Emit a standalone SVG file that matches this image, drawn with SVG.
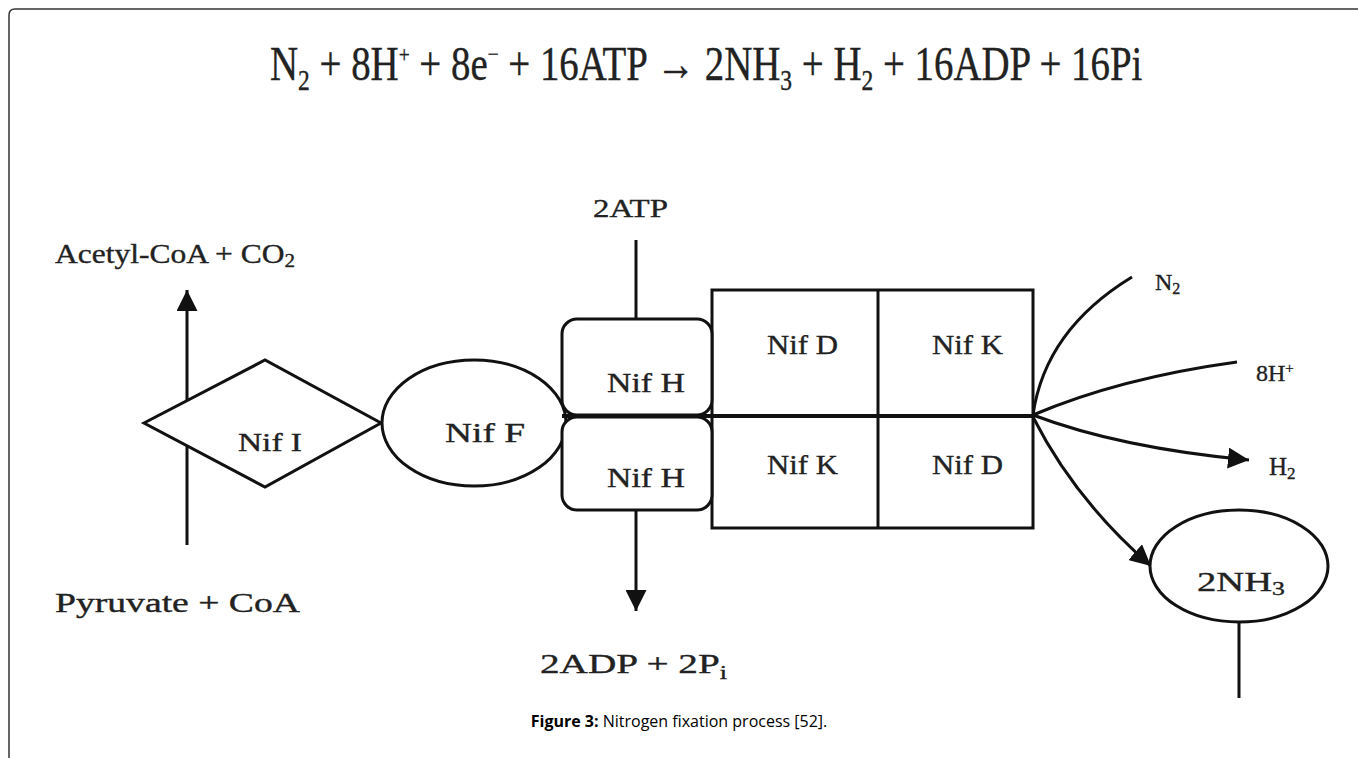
<svg xmlns="http://www.w3.org/2000/svg" width="1358" height="758" viewBox="0 0 1358 758">
<style>
.t{font-family:"Liberation Serif","Times New Roman",serif;fill:#222;stroke:#222;stroke-width:0.35;}
.s{fill:none;stroke:#111;stroke-width:3;}
.n{fill:#fff;stroke:#111;stroke-width:3;}
.cap{font-family:"Open Sans","Liberation Sans",sans-serif;font-size:16px;fill:#000;}
</style>
<defs>
<marker id="ah" viewBox="0 0 10 10" refX="10" refY="5" markerWidth="7" markerHeight="7" orient="auto" markerUnits="strokeWidth">
<path d="M0,0 L10,5 L0,10 Z" fill="#111"/>
</marker>
</defs>
<rect width="1358" height="758" fill="#fff"/>
<path d="M9,758 V15 Q9,9 15,9 H1358" fill="none" stroke="#333" stroke-width="1.5"/>

<g id="equation" transform="translate(270,80) scale(0.81,1)">
<text class="t" x="0" y="0" font-size="48" stroke-width="0.2">N<tspan font-size="29" baseline-shift="-10">2</tspan> + 8H<tspan font-size="24" baseline-shift="18">+</tspan> + 8e<tspan font-size="24" baseline-shift="18">−</tspan> + 16ATP → 2NH<tspan font-size="29" baseline-shift="-10">3</tspan> + H<tspan font-size="29" baseline-shift="-10">2</tspan> + 16ADP + 16Pi</text>
</g>

<g id="connectors">
<line class="s" x1="187" y1="545" x2="187" y2="290" marker-end="url(#ah)"/>
<line class="s" x1="636" y1="240" x2="636" y2="318"/>
<line class="s" x1="636" y1="510" x2="636" y2="611" marker-end="url(#ah)"/>
<path class="s" d="M1033,415 Q1045,330 1132,277"/>
<path class="s" d="M1033,415 Q1120,378 1237,362"/>
<path class="s" d="M1033,415 Q1120,448 1249,460" marker-end="url(#ah)"/>
<path class="s" d="M1033,417 Q1075,500 1151,566" marker-end="url(#ah)"/>
<line class="s" x1="1239" y1="622" x2="1239" y2="698" stroke-width="2"/>
</g>

<g id="acetyl"><text class="t" x="55" y="263" font-size="27" textLength="240" lengthAdjust="spacingAndGlyphs">Acetyl-CoA + CO<tspan font-size="18" baseline-shift="-4">2</tspan></text></g>
<g id="pyruvate"><text class="t" x="55" y="612" font-size="27" textLength="245" lengthAdjust="spacingAndGlyphs">Pyruvate + CoA</text></g>
<g id="atp"><text class="t" x="593" y="217" font-size="26" textLength="75" lengthAdjust="spacingAndGlyphs">2ATP</text></g>
<g id="adp"><text class="t" x="540" y="673" font-size="27" textLength="187" lengthAdjust="spacingAndGlyphs">2ADP + 2P<tspan font-size="18" baseline-shift="-6">i</tspan></text></g>

<g id="nifI">
<polygon class="n" points="144,423 265,360 381,423 265,487"/>
<text class="t" x="238" y="451" font-size="25" textLength="64" lengthAdjust="spacingAndGlyphs">Nif I</text>
</g>
<g id="nifF">
<ellipse class="n" cx="474" cy="423" rx="92" ry="63"/>
<text class="t" x="445" y="442" font-size="27" textLength="80" lengthAdjust="spacingAndGlyphs">Nif F</text>
</g>

<g id="nifDK">
<rect class="n" x="712" y="290" width="321" height="238"/>
<line class="s" x1="878" y1="290" x2="878" y2="528"/>
<text class="t" x="767" y="354" font-size="27" textLength="71" lengthAdjust="spacingAndGlyphs">Nif D</text>
<text class="t" x="932" y="354" font-size="27" textLength="71" lengthAdjust="spacingAndGlyphs">Nif K</text>
<text class="t" x="767" y="474" font-size="27" textLength="71" lengthAdjust="spacingAndGlyphs">Nif K</text>
<text class="t" x="932" y="474" font-size="27" textLength="71" lengthAdjust="spacingAndGlyphs">Nif D</text>
</g>
<g id="nifH1">
<rect class="n" x="562" y="319" width="150" height="96" rx="15"/>
<text class="t" x="607" y="392" font-size="27" textLength="78" lengthAdjust="spacingAndGlyphs">Nif H</text>
</g>
<g id="nifH2">
<rect class="n" x="562" y="417" width="150" height="93" rx="15"/>
<text class="t" x="607" y="487" font-size="27" textLength="78" lengthAdjust="spacingAndGlyphs">Nif H</text>
</g>
<line x1="562" y1="416" x2="1033" y2="416" stroke="#111" stroke-width="4"/>

<g id="n2"><text class="t" x="1155" y="290" font-size="24">N<tspan font-size="16" baseline-shift="-4">2</tspan></text></g>
<g id="h8"><text class="t" x="1256" y="381" font-size="24">8H<tspan font-size="15" baseline-shift="8">+</tspan></text></g>
<g id="h2"><text class="t" x="1269" y="475" font-size="25">H<tspan font-size="17" baseline-shift="-4">2</tspan></text></g>
<g id="nh3">
<ellipse class="n" cx="1239" cy="566" rx="89" ry="56"/>
<text class="t" x="1197" y="591" font-size="27" textLength="88" lengthAdjust="spacingAndGlyphs">2NH<tspan font-size="18" baseline-shift="-4">3</tspan></text>
</g>

<text class="cap" x="679" y="727" text-anchor="middle"><tspan font-weight="bold">Figure 3:</tspan> Nitrogen fixation process [52].</text>
</svg>
